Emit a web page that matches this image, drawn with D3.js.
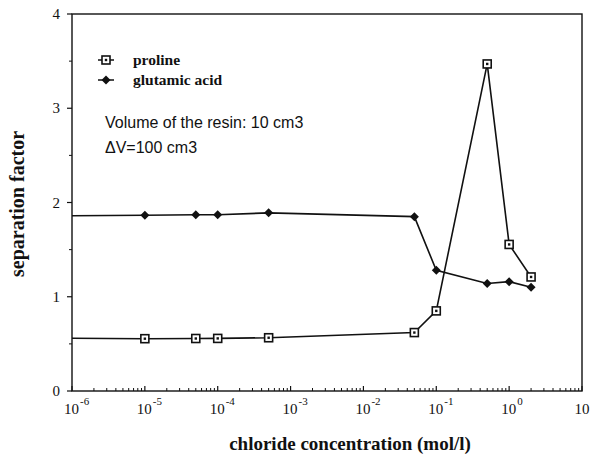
<!DOCTYPE html>
<html>
<head>
<meta charset="utf-8">
<script src="https://cdn.jsdelivr.net/npm/d3@7"></script>
<style>
  body { margin: 0; background: #fff; }
  svg text { fill: #111; }
</style>
</head>
<body>
<div id="chart"></div>
<script>
// concentrations (mol/l); first point has no marker (line start)
var conc = [1e-6, 1e-5, 5e-5, 1e-4, 5e-4, 5e-2, 0.1, 0.5, 1, 2];
var proline = [0.56, 0.555, 0.557, 0.558, 0.565, 0.62, 0.85, 3.47, 1.555, 1.21];
var glutamic = [1.86, 1.865, 1.87, 1.87, 1.89, 1.85, 1.28, 1.14, 1.16, 1.10];
var yTicks = [0, 1, 2, 3, 4];
var decades = [-6, -5, -4, -3, -2, -1, 0, 1];

var width = 590, height = 464;
var margin = {left: 72, right: 8, top: 14, bottom: 73};

var svg = d3.select("#chart").append("svg")
    .attr("width", width)
    .attr("height", height);

var x = d3.scaleLog().domain([1e-6, 10]).range([margin.left, width - margin.right]);
var y = d3.scaleLinear().domain([0, 4]).range([height - margin.bottom, margin.top]);

var serif = "'Liberation Serif', 'DejaVu Serif', serif";
var sans = "'Liberation Sans', Arial, sans-serif";

// frame
var g = svg.append("g");
g.append("rect")
    .attr("x", x.range()[0]).attr("y", y.range()[1])
    .attr("width", x.range()[1] - x.range()[0])
    .attr("height", y.range()[0] - y.range()[1])
    .attr("fill", "none").attr("stroke", "#111").attr("stroke-width", 1.4);

// y ticks (major + half steps), outward
var yMinor = d3.range(0.5, 4, 1);
g.selectAll(".ytick").data(yTicks).enter().append("line")
    .attr("x1", x.range()[0] - 5).attr("x2", x.range()[0])
    .attr("y1", function (d) { return y(d); }).attr("y2", function (d) { return y(d); })
    .attr("stroke", "#111").attr("stroke-width", 1.2);
g.selectAll(".yminor").data(yMinor).enter().append("line")
    .attr("x1", x.range()[0] - 3).attr("x2", x.range()[0])
    .attr("y1", function (d) { return y(d); }).attr("y2", function (d) { return y(d); })
    .attr("stroke", "#111").attr("stroke-width", 1);
g.selectAll(".ylabel").data(yTicks).enter().append("text")
    .attr("x", x.range()[0] - 12)
    .attr("y", function (d) { return y(d) + 5; })
    .attr("text-anchor", "end")
    .attr("font-family", serif).attr("font-size", 15)
    .text(function (d) { return d; });

// x ticks: decades + minor log ticks, pointing up into the plot
var xMinor = [];
decades.slice(0, -1).forEach(function (e) {
    for (var m = 2; m <= 9; m++) xMinor.push(m * Math.pow(10, e));
});
g.selectAll(".xtick").data(decades).enter().append("line")
    .attr("x1", function (d) { return x(Math.pow(10, d)); })
    .attr("x2", function (d) { return x(Math.pow(10, d)); })
    .attr("y1", y.range()[0]).attr("y2", y.range()[0] - 5)
    .attr("stroke", "#111").attr("stroke-width", 1.2);
g.selectAll(".xminor").data(xMinor).enter().append("line")
    .attr("x1", function (d) { return x(d); })
    .attr("x2", function (d) { return x(d); })
    .attr("y1", y.range()[0]).attr("y2", y.range()[0] - 3)
    .attr("stroke", "#111").attr("stroke-width", 1);

var xl = g.selectAll(".xlabel").data(decades).enter().append("text")
    .attr("x", function (d) { return x(Math.pow(10, d)) - (d === 1 ? 0 : 8); })
    .attr("y", y.range()[0] + 23)
    .attr("font-family", serif).attr("font-size", 15)
    .attr("text-anchor", function (d) { return d === 1 ? "middle" : "start"; });
xl.append("tspan").text("10");
xl.filter(function (d) { return d !== 1; }).append("tspan")
    .attr("dy", -9).attr("dx", 1).attr("font-size", 11)
    .text(function (d) { return d; });

// series
var line = d3.line()
    .x(function (d) { return x(d[0]); })
    .y(function (d) { return y(d[1]); });

var gluPts = conc.map(function (c, i) { return [c, glutamic[i]]; });
var proPts = conc.map(function (c, i) { return [c, proline[i]]; });

svg.append("path").datum(gluPts).attr("d", line)
    .attr("fill", "none").attr("stroke", "#111").attr("stroke-width", 1.6);
svg.append("path").datum(proPts).attr("d", line)
    .attr("fill", "none").attr("stroke", "#111").attr("stroke-width", 1.6);

function diamond(sel) {
    sel.append("path")
        .attr("d", "M0,-4.5L4.5,0L0,4.5L-4.5,0Z")
        .attr("fill", "#111");
}
function square(sel) {
    sel.append("rect").attr("x", -4).attr("y", -4).attr("width", 8).attr("height", 8)
        .attr("fill", "#fff").attr("stroke", "#111").attr("stroke-width", 1.6);
    sel.append("rect").attr("x", -1.2).attr("y", -1.2).attr("width", 2.4).attr("height", 2.4)
        .attr("fill", "#111");
}

svg.selectAll(".glu").data(gluPts.slice(1)).enter().append("g")
    .attr("transform", function (d) { return "translate(" + x(d[0]) + "," + y(d[1]) + ")"; })
    .call(diamond);
svg.selectAll(".pro").data(proPts.slice(1)).enter().append("g")
    .attr("transform", function (d) { return "translate(" + x(d[0]) + "," + y(d[1]) + ")"; })
    .call(square);

// legend
var legend = svg.append("g").attr("transform", "translate(98,60)");
var names = ["proline", "glutamic acid"];
var lg = legend.selectAll("g").data(names).enter().append("g")
    .attr("transform", function (d, i) { return "translate(0," + i * 20 + ")"; });
lg.append("line").attr("x1", 0).attr("x2", 16).attr("stroke", "#111").attr("stroke-width", 1.5);
lg.filter(function (d, i) { return i === 0; }).append("g").attr("transform", "translate(8,0)").call(square);
lg.filter(function (d, i) { return i === 1; }).append("g").attr("transform", "translate(8,0)").call(diamond);
lg.append("text").attr("x", 35).attr("y", 5)
    .attr("font-family", serif).attr("font-size", 15.5).attr("font-weight", "bold")
    .text(function (d) { return d; });

svg.append("text").attr("x", 105).attr("y", 128)
    .attr("font-family", sans).attr("font-size", 16)
    .text("Volume of the resin: 10 cm3");
svg.append("text").attr("x", 105).attr("y", 153)
    .attr("font-family", sans).attr("font-size", 16)
    .text("\u0394V=100 cm3");

// axis titles
svg.append("text")
    .attr("x", 350).attr("y", 450)
    .attr("text-anchor", "middle")
    .attr("font-family", serif).attr("font-size", 19).attr("font-weight", "bold")
    .text("chloride concentration (mol/l)");
svg.append("text")
    .attr("transform", "translate(24,204) rotate(-90)")
    .attr("text-anchor", "middle")
    .attr("font-family", serif).attr("font-size", 20).attr("font-weight", "bold")
    .text("separation factor");
</script>
</body>
</html>
